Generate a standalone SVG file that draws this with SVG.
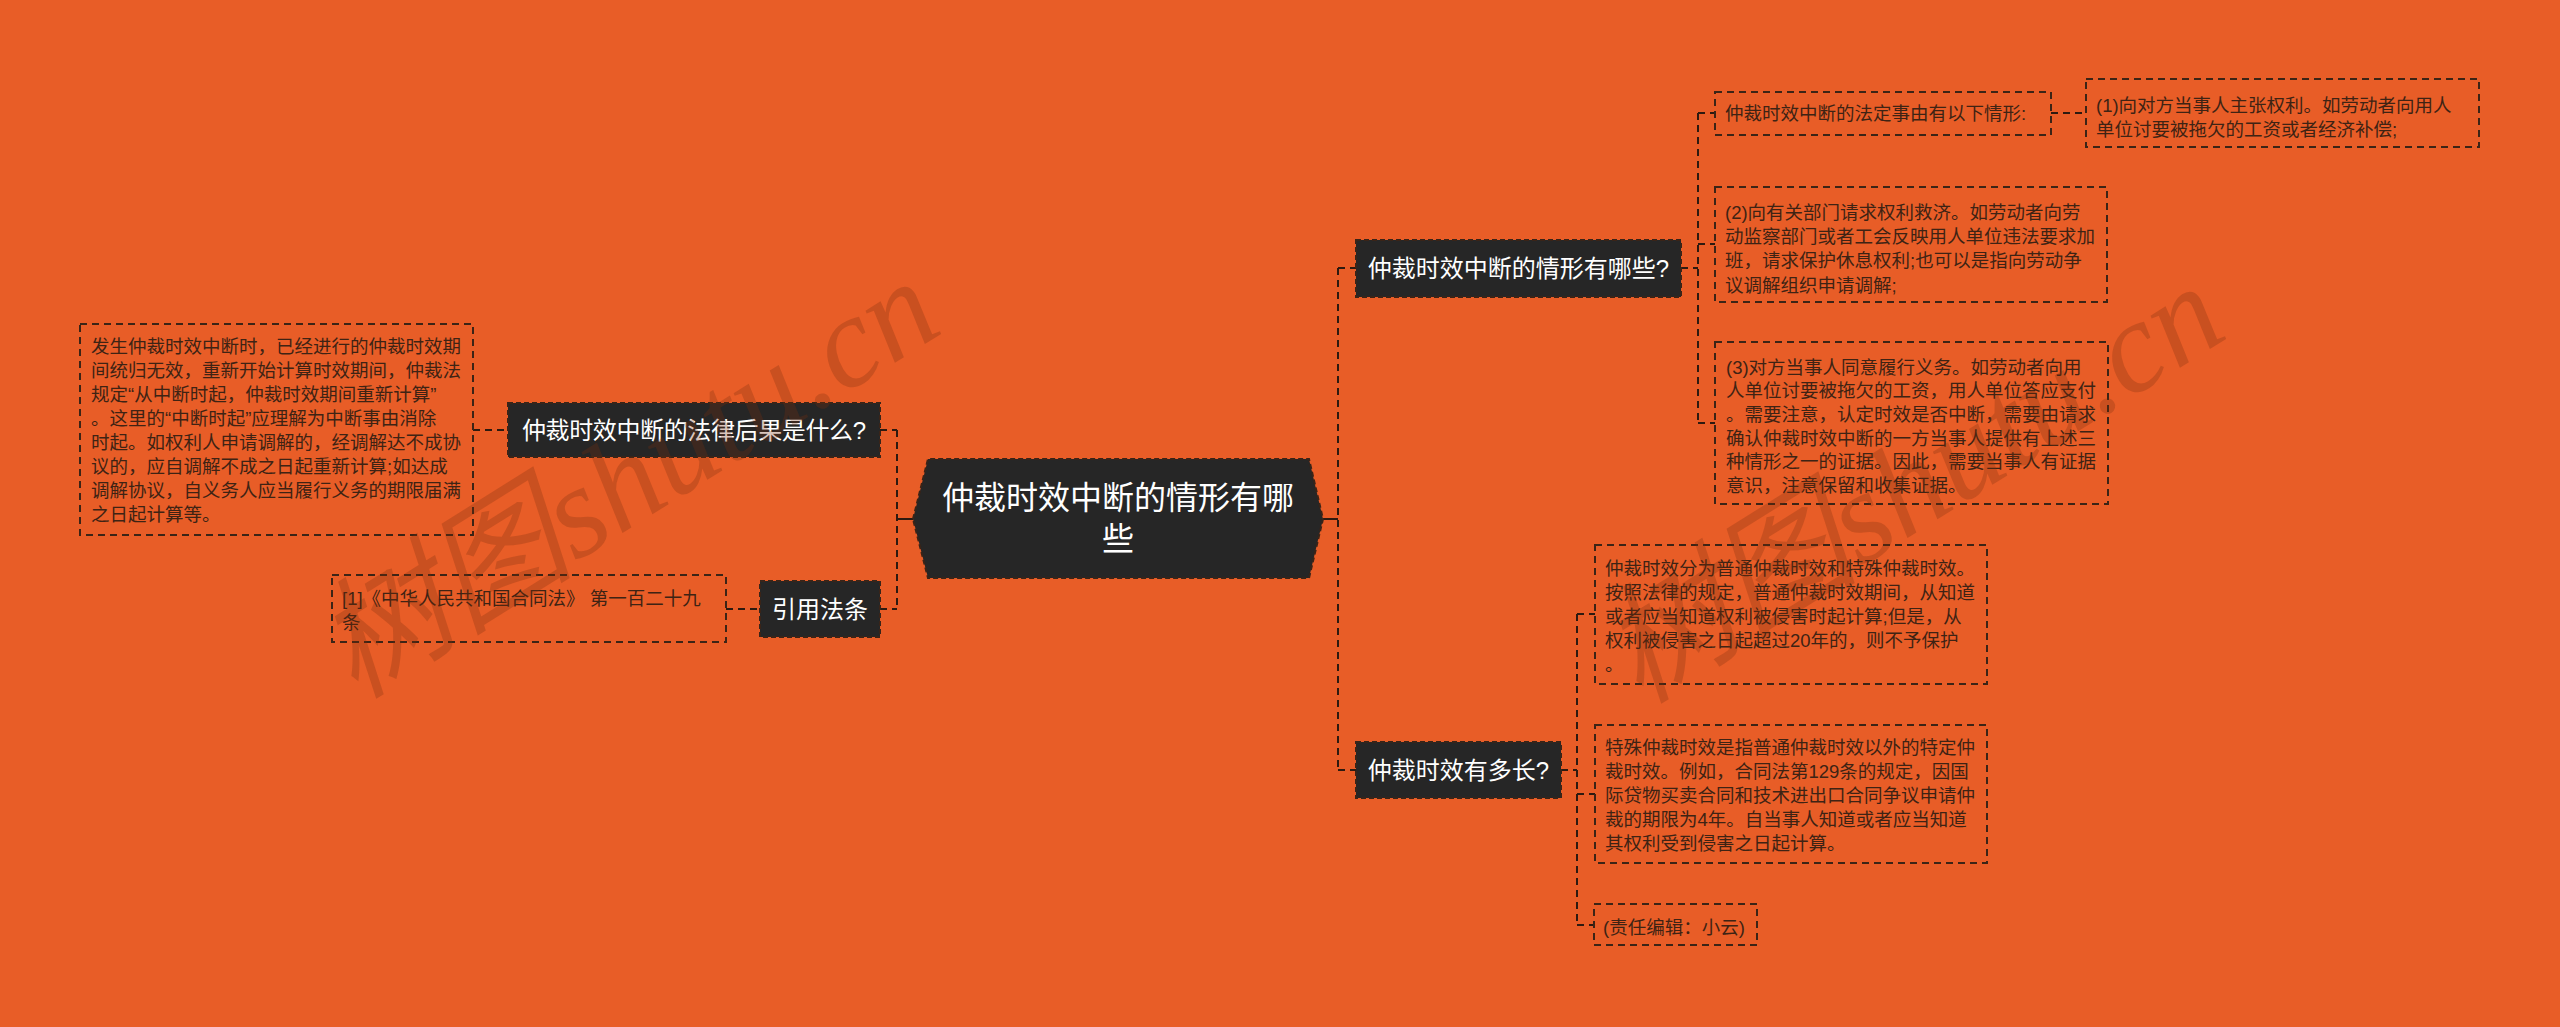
<svg xmlns="http://www.w3.org/2000/svg" width="2560" height="1027" viewBox="0 0 2560 1027">
<style>
.bg{fill:#E85D27}
.node rect,.node polygon{fill:#262626;stroke:#3a2418;stroke-width:2;stroke-dasharray:5 3}
.nt{font-family:"Liberation Sans","Noto Sans CJK SC",sans-serif;fill:#ffffff;font-size:24px;text-anchor:middle}
.leaf rect{fill:none;stroke:#3c2416;stroke-width:2;stroke-dasharray:7 5}
.lt{font-family:"Liberation Sans","Noto Sans CJK SC",sans-serif;fill:#3e2314;font-size:18.5px}
.conn line{stroke:#2e1a10;stroke-width:2;stroke-dasharray:7 5;fill:none}
.conn line.solid{stroke-dasharray:none}
.wm{font-family:"Liberation Serif","Noto Sans CJK SC",serif;font-style:italic;font-size:130px;fill:#7a2e10;fill-opacity:0.28}
</style>
<rect class="bg" x="0" y="0" width="2560" height="1027"/>

<g id="connectors" class="conn">
  <line class="solid" x1="897" y1="519" x2="913" y2="519"/>
  <line x1="897" y1="430" x2="897" y2="609"/>
  <line x1="880" y1="430" x2="897" y2="430"/>
  <line x1="880" y1="609" x2="897" y2="609"/>
  <line x1="473" y1="430" x2="508" y2="430"/>
  <line x1="726" y1="609" x2="760" y2="609"/>
  <line class="solid" x1="1323" y1="519" x2="1338" y2="519"/>
  <line x1="1338" y1="268" x2="1338" y2="770"/>
  <line x1="1338" y1="268" x2="1356" y2="268"/>
  <line x1="1338" y1="770" x2="1356" y2="770"/>
  <line x1="1681" y1="268" x2="1698" y2="268"/>
  <line x1="1698" y1="113" x2="1698" y2="423"/>
  <line x1="1698" y1="113" x2="1715" y2="113"/>
  <line x1="1698" y1="244" x2="1715" y2="244"/>
  <line x1="1698" y1="423" x2="1715" y2="423"/>
  <line x1="2051" y1="113" x2="2086" y2="113"/>
  <line x1="1561" y1="770" x2="1577" y2="770"/>
  <line x1="1577" y1="614" x2="1577" y2="925"/>
  <line x1="1577" y1="614" x2="1595" y2="614"/>
  <line x1="1577" y1="794" x2="1595" y2="794"/>
  <line x1="1577" y1="925" x2="1594" y2="925"/>
</g>

<g id="center" class="node">
  <polygon points="913,519 928,459 1309,459 1323,519 1309,578 928,578"/>
  <text class="nt" style="font-size:32px" x="1118" y="509">仲裁时效中断的情形有哪</text>
  <text class="nt" style="font-size:32px" x="1118" y="550">些</text>
</g>

<g id="n-falv" class="node">
  <rect x="508" y="403" width="372" height="54"/>
  <text class="nt" x="694" y="438.5" textLength="344" lengthAdjust="spacing">仲裁时效中断的法律后果是什么?</text>
</g>
<g id="n-yinyong" class="node">
  <rect x="760" y="581" width="120" height="56"/>
  <text class="nt" x="820" y="617.5">引用法条</text>
</g>
<g id="n-qingxing" class="node">
  <rect x="1356" y="240" width="325" height="57"/>
  <text class="nt" x="1518.5" y="277">仲裁时效中断的情形有哪些?</text>
</g>
<g id="n-duochang" class="node">
  <rect x="1356" y="742" width="205" height="56"/>
  <text class="nt" x="1458.5" y="778.5">仲裁时效有多长?</text>
</g>

<g id="l-falv" class="leaf">
  <rect x="80" y="324" width="393" height="211"/>
  <text class="lt" x="91" y="353.2">发生仲裁时效中断时，已经进行的仲裁时效期</text>
  <text class="lt" x="91" y="377.2">间统归无效，重新开始计算时效期间，仲裁法</text>
  <text class="lt" x="91" y="401.2">规定“从中断时起，仲裁时效期间重新计算”</text>
  <text class="lt" x="91" y="425.2">。这里的“中断时起”应理解为中断事由消除</text>
  <text class="lt" x="91" y="449.2">时起。如权利人申请调解的，经调解达不成协</text>
  <text class="lt" x="91" y="473.2">议的，应自调解不成之日起重新计算;如达成</text>
  <text class="lt" x="91" y="497.2">调解协议，自义务人应当履行义务的期限届满</text>
  <text class="lt" x="91" y="521.2">之日起计算等。</text>
</g>
<g id="l-yinyong" class="leaf">
  <rect x="332" y="575" width="394" height="67"/>
  <text class="lt" x="342" y="604.5">[1]《中华人民共和国合同法》 第一百二十九</text>
  <text class="lt" x="342" y="628.5">条</text>
</g>
<g id="l-fading" class="leaf">
  <rect x="1715" y="92" width="336" height="43"/>
  <text class="lt" x="1725" y="120">仲裁时效中断的法定事由有以下情形:</text>
</g>
<g id="l-1" class="leaf">
  <rect x="2086" y="79" width="393" height="68"/>
  <text class="lt" x="2096" y="111.5">(1)向对方当事人主张权利。如劳动者向用人</text>
  <text class="lt" x="2096" y="135.5">单位讨要被拖欠的工资或者经济补偿;</text>
</g>
<g id="l-2" class="leaf">
  <rect x="1715" y="187" width="392" height="115"/>
  <text class="lt" x="1725" y="218.5">(2)向有关部门请求权利救济。如劳动者向劳</text>
  <text class="lt" x="1725" y="242.9">动监察部门或者工会反映用人单位违法要求加</text>
  <text class="lt" x="1725" y="267.3">班，请求保护休息权利;也可以是指向劳动争</text>
  <text class="lt" x="1725" y="291.7">议调解组织申请调解;</text>
</g>
<g id="l-3" class="leaf">
  <rect x="1715" y="342" width="393" height="162"/>
  <text class="lt" x="1726" y="373.5">(3)对方当事人同意履行义务。如劳动者向用</text>
  <text class="lt" x="1726" y="397.2">人单位讨要被拖欠的工资，用人单位答应支付</text>
  <text class="lt" x="1726" y="420.9">。需要注意，认定时效是否中断，需要由请求</text>
  <text class="lt" x="1726" y="444.6">确认仲裁时效中断的一方当事人提供有上述三</text>
  <text class="lt" x="1726" y="468.3">种情形之一的证据。因此，需要当事人有证据</text>
  <text class="lt" x="1726" y="492">意识，注意保留和收集证据。</text>
</g>
<g id="l-a" class="leaf">
  <rect x="1595" y="545" width="392" height="139"/>
  <text class="lt" x="1605" y="574.5">仲裁时效分为普通仲裁时效和特殊仲裁时效。</text>
  <text class="lt" x="1605" y="598.5">按照法律的规定，普通仲裁时效期间，从知道</text>
  <text class="lt" x="1605" y="622.5">或者应当知道权利被侵害时起计算;但是，从</text>
  <text class="lt" x="1605" y="646.5">权利被侵害之日起超过20年的，则不予保护</text>
  <text class="lt" x="1605" y="670.5">。</text>
</g>
<g id="l-b" class="leaf">
  <rect x="1595" y="725" width="392" height="138"/>
  <text class="lt" x="1605" y="753.5">特殊仲裁时效是指普通仲裁时效以外的特定仲</text>
  <text class="lt" x="1605" y="777.5">裁时效。例如，合同法第129条的规定，因国</text>
  <text class="lt" x="1605" y="801.5">际贷物买卖合同和技术进出口合同争议申请仲</text>
  <text class="lt" x="1605" y="825.5">裁的期限为4年。自当事人知道或者应当知道</text>
  <text class="lt" x="1605" y="849.5">其权利受到侵害之日起计算。</text>
</g>
<g id="l-c" class="leaf">
  <rect x="1594" y="904" width="163" height="41"/>
  <text class="lt" x="1603" y="933.5">(责任编辑：小云)</text>
</g>

<g id="watermark">
  <text class="wm" x="355" y="700" transform="rotate(-32 355 700)">树图shutu.cn</text>
  <text class="wm" x="1640" y="705" transform="rotate(-32 1640 705)">树图shutu.cn</text>
</g>
</svg>
